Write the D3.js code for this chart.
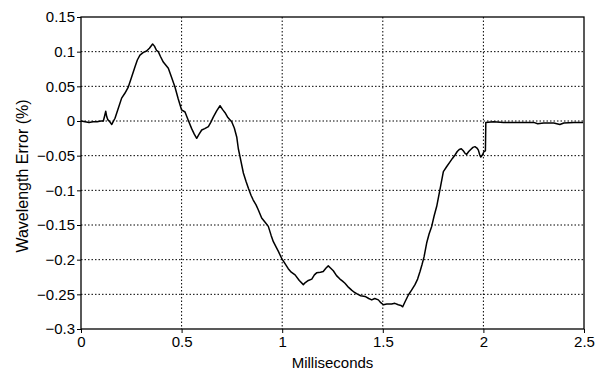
<!DOCTYPE html>
<html>
<head>
<meta charset="utf-8">
<script src="https://cdn.jsdelivr.net/npm/d3@7"></script>
<style>
  body { margin: 0; background: #fff; }
  text { font-family: "Liberation Sans", Arial, sans-serif; fill: #000; }
</style>
</head>
<body>
<div id="my_dataviz"></div>
<script>
// tick values
var xTicks = [0, 0.5, 1, 1.5, 2, 2.5];
var yTicks = [0.15, 0.1, 0.05, 0, -0.05, -0.1, -0.15, -0.2, -0.25, -0.3];

// trace: time (ms) and wavelength error (%)
var times = [0.000, 0.020, 0.040, 0.060, 0.080, 0.100, 0.111, 0.118, 0.123, 0.128,
  0.133, 0.143, 0.153, 0.160, 0.169, 0.185, 0.202, 0.218, 0.235, 0.250,
  0.268, 0.280, 0.293, 0.310, 0.326, 0.340, 0.356, 0.365, 0.375, 0.384,
  0.395, 0.409, 0.420, 0.434, 0.450, 0.467, 0.483, 0.500, 0.517, 0.533,
  0.550, 0.563, 0.575, 0.587, 0.600, 0.615, 0.633, 0.645, 0.658, 0.675,
  0.691, 0.705, 0.716, 0.730, 0.749, 0.762, 0.774, 0.782, 0.790, 0.807,
  0.820, 0.832, 0.845, 0.856, 0.870, 0.881, 0.898, 0.915, 0.931, 0.945,
  0.956, 0.970, 0.981, 0.997, 1.010, 1.030, 1.045, 1.064, 1.085, 1.105,
  1.115, 1.130, 1.147, 1.160, 1.171, 1.190, 1.204, 1.218, 1.229, 1.240,
  1.254, 1.270, 1.287, 1.300, 1.312, 1.330, 1.345, 1.358, 1.370, 1.390,
  1.412, 1.430, 1.445, 1.460, 1.478, 1.490, 1.503, 1.520, 1.544, 1.560,
  1.577, 1.590, 1.599, 1.610, 1.627, 1.643, 1.660, 1.673, 1.685, 1.695,
  1.705, 1.718, 1.730, 1.743, 1.755, 1.768, 1.784, 1.801, 1.817, 1.834,
  1.846, 1.859, 1.870, 1.880, 1.890, 1.900, 1.910, 1.917, 1.927, 1.937,
  1.948, 1.958, 1.968, 1.975, 1.982, 1.987, 1.995, 2.003, 2.010, 2.012,
  2.050, 2.100, 2.150, 2.200, 2.250, 2.270, 2.300, 2.350, 2.380, 2.400,
  2.450, 2.495];
var errors = [0.000, -0.001, -0.002, -0.001, -0.001, 0.000, 0.000, 0.008, 0.014, 0.006,
  0.002, -0.001, -0.005, -0.001, 0.004, 0.018, 0.033, 0.040, 0.049, 0.062,
  0.078, 0.088, 0.095, 0.099, 0.101, 0.105, 0.111, 0.108, 0.102, 0.100,
  0.093, 0.085, 0.081, 0.076, 0.063, 0.049, 0.032, 0.016, 0.013, 0.001,
  -0.011, -0.019, -0.025, -0.019, -0.013, -0.011, -0.008, -0.002, 0.006, 0.015,
  0.022, 0.016, 0.012, 0.005, -0.001, -0.010, -0.023, -0.040, -0.051, -0.075,
  -0.087, -0.097, -0.107, -0.114, -0.121, -0.128, -0.140, -0.146, -0.152, -0.165,
  -0.174, -0.182, -0.188, -0.198, -0.204, -0.213, -0.218, -0.222, -0.230, -0.236,
  -0.233, -0.230, -0.228, -0.222, -0.219, -0.218, -0.217, -0.212, -0.209, -0.212,
  -0.216, -0.223, -0.228, -0.231, -0.234, -0.240, -0.244, -0.247, -0.249, -0.252,
  -0.253, -0.256, -0.258, -0.256, -0.258, -0.262, -0.265, -0.264, -0.264, -0.263,
  -0.265, -0.266, -0.268, -0.261, -0.251, -0.244, -0.236, -0.228, -0.217, -0.207,
  -0.196, -0.176, -0.163, -0.152, -0.137, -0.123, -0.099, -0.073, -0.066, -0.059,
  -0.054, -0.049, -0.044, -0.041, -0.040, -0.043, -0.047, -0.048, -0.044, -0.041,
  -0.038, -0.037, -0.039, -0.042, -0.049, -0.052, -0.049, -0.044, -0.043, -0.002,
  -0.001, -0.002, -0.002, -0.002, -0.002, -0.004, -0.003, -0.003, -0.005, -0.003,
  -0.002, -0.002];

var data = times.map(function(t, i) { return {t: t, v: errors[i]}; });

// set the dimensions and margins of the graph
var margin = {top: 17, right: 13, bottom: 42, left: 81},
    width = 597 - margin.left - margin.right,
    height = 371 - margin.top - margin.bottom;

var svg = d3.select("#my_dataviz")
  .append("svg")
    .attr("width", 597)
    .attr("height", 371)
  .append("g")
    .attr("transform", "translate(" + margin.left + "," + margin.top + ")");

var x = d3.scaleLinear().domain([0, 2.5]).range([0, width]);
var y = d3.scaleLinear().domain([-0.3, 0.15]).range([height, 0]);

// dotted grid
svg.append("g")
  .selectAll("line")
  .data(xTicks.slice(1, -1))
  .enter().append("line")
    .attr("x1", function(d) { return x(d); })
    .attr("x2", function(d) { return x(d); })
    .attr("y1", 0)
    .attr("y2", height)
    .attr("stroke", "#000")
    .attr("stroke-width", 1)
    .attr("stroke-dasharray", "1.5,2");
svg.append("g")
  .selectAll("line")
  .data(yTicks.slice(1, -1))
  .enter().append("line")
    .attr("x1", 0)
    .attr("x2", width)
    .attr("y1", function(d) { return y(d); })
    .attr("y2", function(d) { return y(d); })
    .attr("stroke", "#000")
    .attr("stroke-width", 1)
    .attr("stroke-dasharray", "1.5,2");

// X axis
svg.append("g")
  .attr("transform", "translate(0," + height + ")")
  .call(d3.axisBottom(x).tickValues(xTicks).tickFormat(d3.format("")).tickSize(4).tickPadding(3))
  .call(function(g) { g.select(".domain").remove(); })
  .selectAll("text")
    .style("font-size", "15px")
    .style("font-family", "Liberation Sans, Arial, sans-serif");

// Y axis
svg.append("g")
  .call(d3.axisLeft(y).tickValues(yTicks).tickFormat(d3.format("")).tickSize(4).tickPadding(2))
  .call(function(g) { g.select(".domain").remove(); })
  .selectAll("text")
    .style("font-size", "15px")
    .style("font-family", "Liberation Sans, Arial, sans-serif");

// frame
svg.append("rect")
  .attr("x", 0)
  .attr("y", 0)
  .attr("width", width)
  .attr("height", height)
  .attr("fill", "none")
  .attr("stroke", "#000")
  .attr("stroke-width", 1.3);

// the trace
svg.append("path")
  .datum(data)
  .attr("fill", "none")
  .attr("stroke", "#000")
  .attr("stroke-width", 1.5)
  .attr("stroke-linejoin", "round")
  .attr("d", d3.line()
    .x(function(d) { return x(d.t); })
    .y(function(d) { return y(d.v); }));

// axis titles
svg.append("text")
  .attr("x", width / 2)
  .attr("y", height + 39)
  .attr("text-anchor", "middle")
  .style("font-size", "15px")
  .text("Milliseconds");

svg.append("text")
  .attr("transform", "rotate(-90)")
  .attr("x", -159)
  .attr("y", -53)
  .attr("text-anchor", "middle")
  .style("font-size", "16px")
  .text("Wavelength Error (%)");
</script>
</body>
</html>
